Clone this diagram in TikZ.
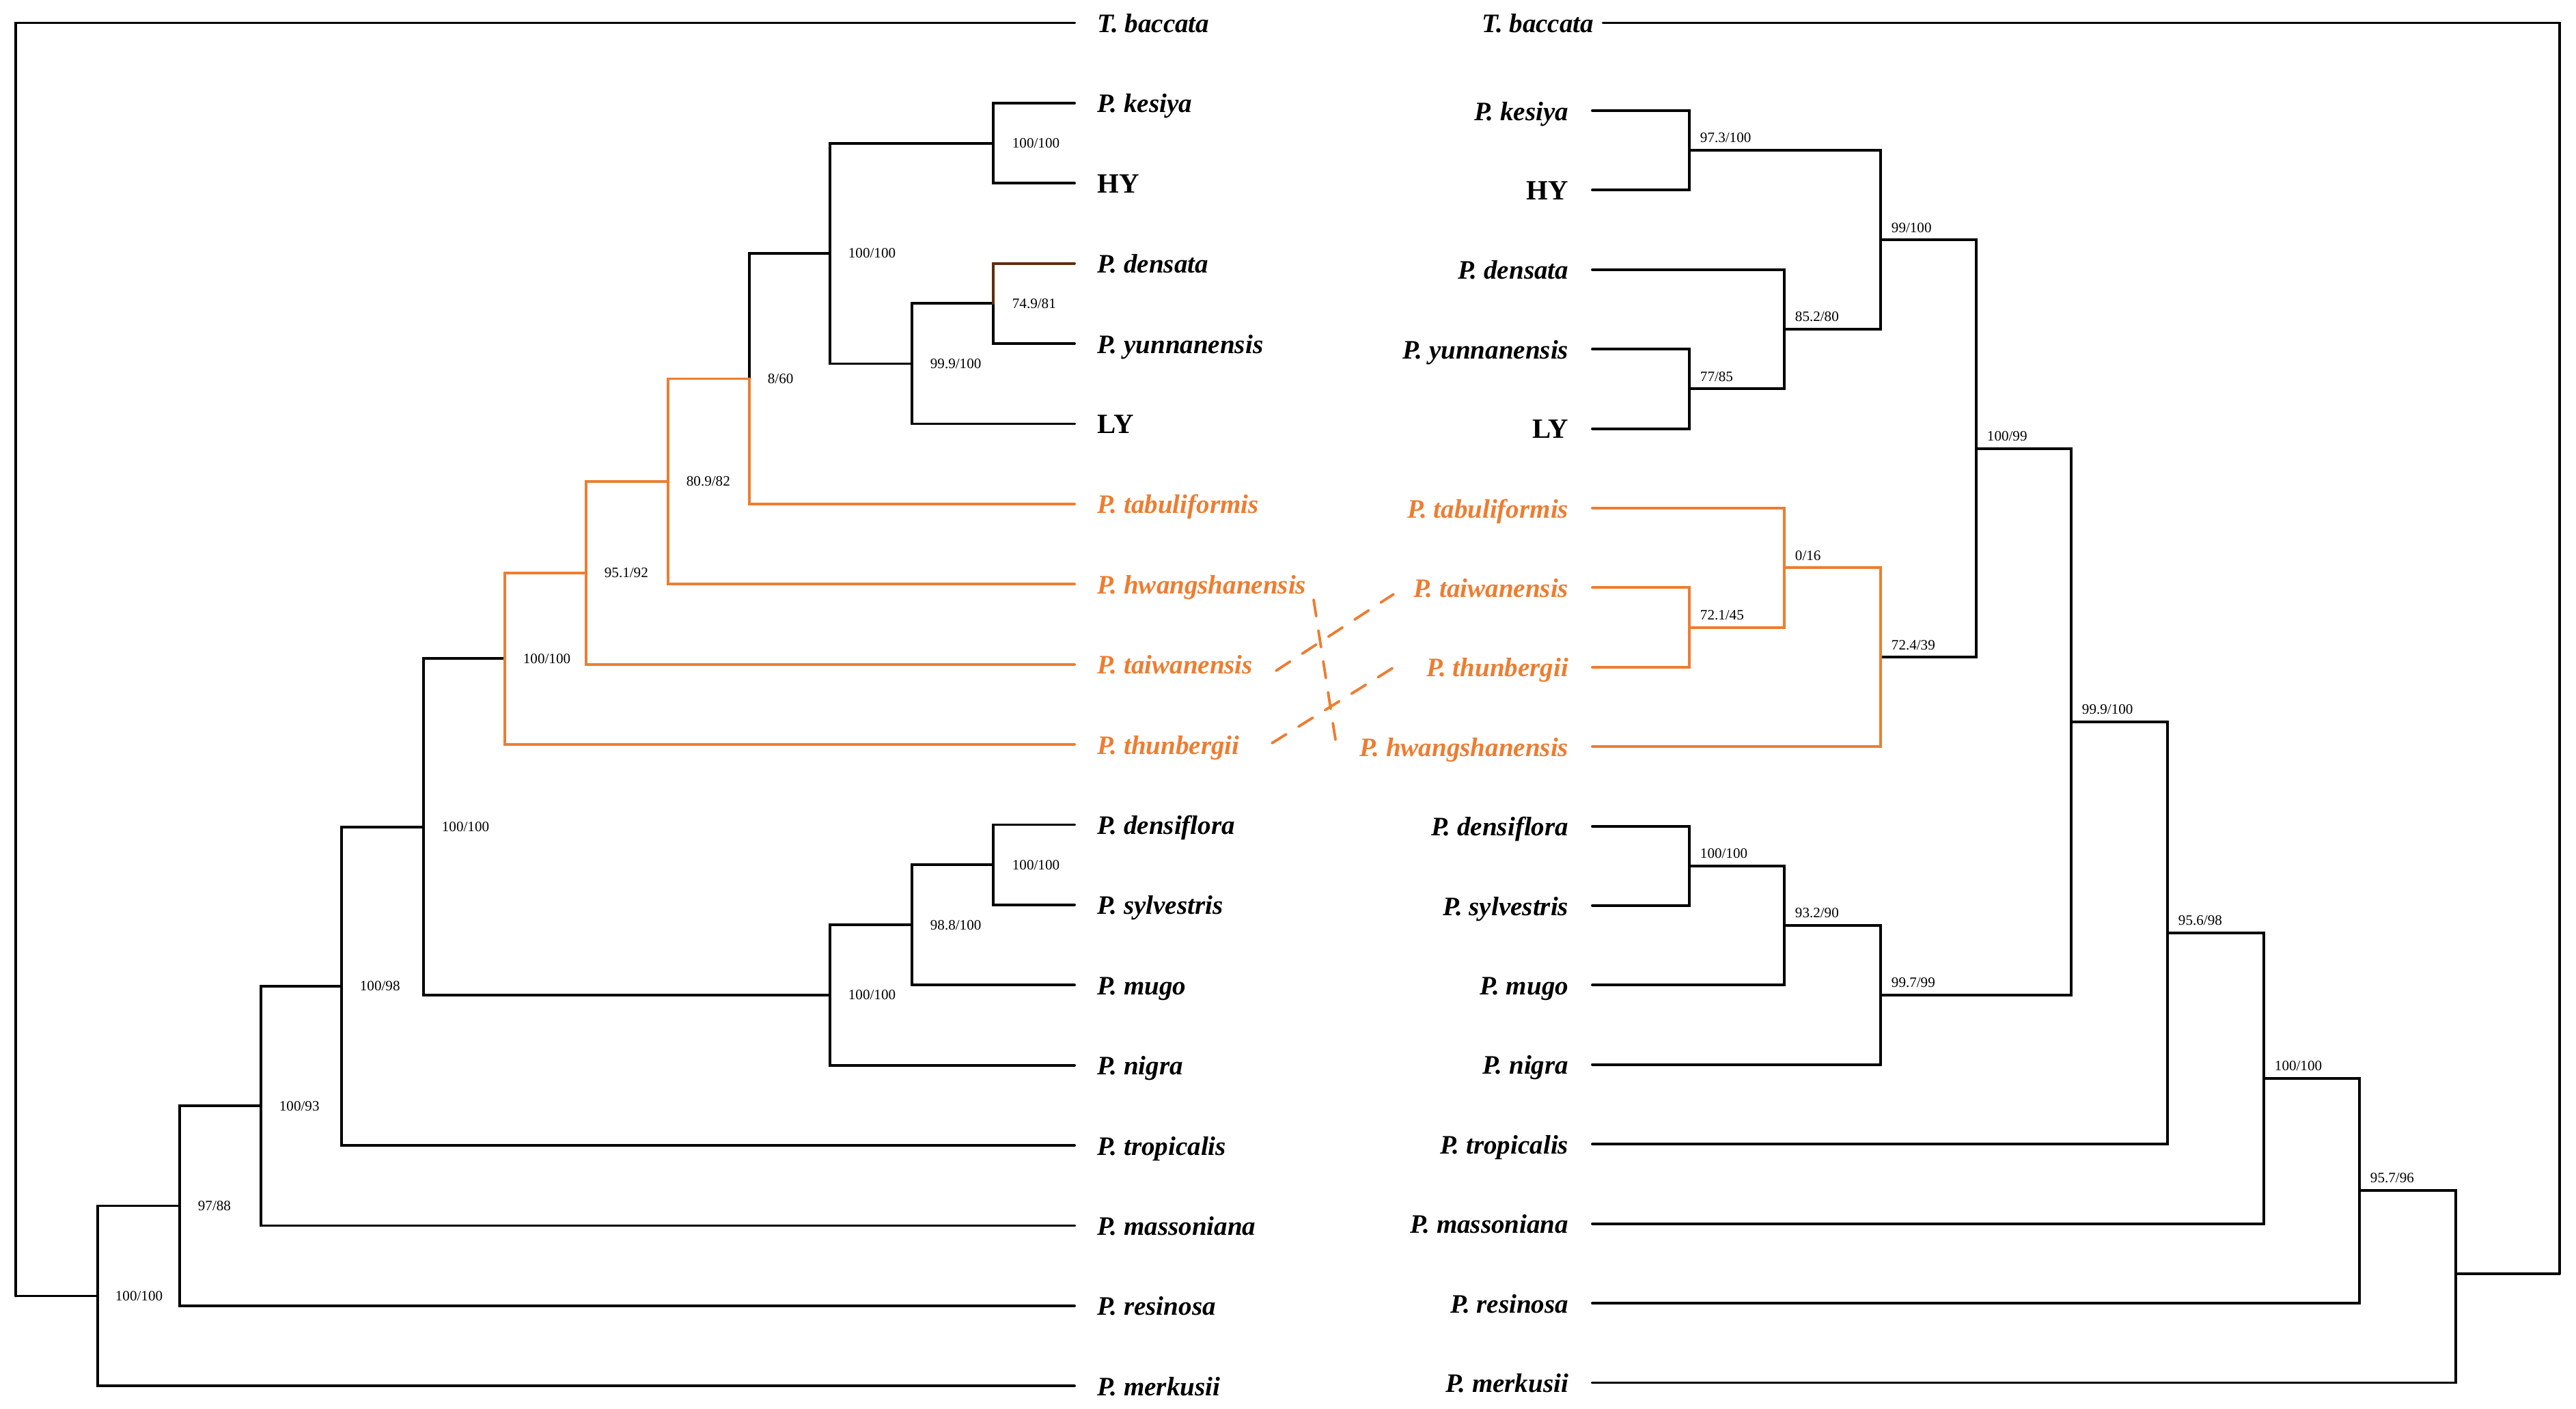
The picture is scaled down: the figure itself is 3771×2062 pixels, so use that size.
\documentclass[tikz,border=0pt]{standalone}
\usepackage{fontspec}
\setmainfont{Liberation Serif}
\usetikzlibrary{positioning}
\definecolor{pineorange}{RGB}{237,125,49}
\definecolor{densbrown}{RGB}{94,46,12}
\tikzset{
	taxon/.style={font=\fontsize{11.1}{13}\selectfont\bfseries\itshape, inner sep=0pt},
	sample/.style={font=\fontsize{11.6}{13}\selectfont\bfseries, inner sep=0pt},
	support/.style={font=\fontsize{6}{7}\selectfont, inner sep=0pt},
	swap/.style={pineorange, dash pattern=on 7pt off 6pt}
}
\begin{document}
\begin{tikzpicture}[x=0.01cm, y=-0.01cm, line width=1.1pt, line cap=round]
		\useasboundingbox (0,0) rectangle (3771,2062);
		% left tree: inner nodes
		\coordinate (lroot) at (23,1897.4);
		\coordinate (lA) at (143,1897.4);
		\coordinate (lB) at (263,1765.5);
		\coordinate (lC) at (382,1619.2);
		\coordinate (lD) at (500,1443.9);
		\coordinate (lE) at (620,1210.7);
		\coordinate (lF) at (739,964.4);
		\coordinate (lH) at (858,838.8);
		\coordinate (lI) at (978,704.9);
		\coordinate (lJ) at (1097,554.5);
		\coordinate (lK) at (1215,371);
		\coordinate (lL) at (1454,209.6);
		\coordinate (lM) at (1335,532.5);
		\coordinate (lN) at (1454,444.4);
		\coordinate (lG) at (1215,1457);
		\coordinate (lO) at (1335,1354.3);
		\coordinate (lP) at (1454,1266.2);
		% left tree: tips
		\coordinate (ltb) at (1573,33.5);
		\coordinate (lkes) at (1573,150.9);
		\coordinate (lhy) at (1573,268.3);
		\coordinate (lden) at (1573,385.7);
		\coordinate (lyun) at (1573,503.1);
		\coordinate (lly) at (1573,620.5);
		\coordinate (ltab) at (1573,737.9);
		\coordinate (lhwa) at (1573,855.3);
		\coordinate (ltai) at (1573,972.7);
		\coordinate (lthu) at (1573,1090.1);
		\coordinate (ldfl) at (1573,1207.5);
		\coordinate (lsyl) at (1573,1324.9);
		\coordinate (lmug) at (1573,1442.3);
		\coordinate (lnig) at (1573,1559.7);
		\coordinate (ltro) at (1573,1677.1);
		\coordinate (lmas) at (1573,1794.5);
		\coordinate (lres) at (1573,1911.9);
		\coordinate (lmer) at (1573,2029.3);
		\node[taxon, anchor=base west] (ntb) at (1605,47.5) {T. baccata};
		\node[taxon, anchor=base west] (nkes) at (1605,164.9) {P. kesiya};
		\node[sample, anchor=base west] (nhy) at (1605,282.3) {HY};
		\node[taxon, anchor=base west] (nden) at (1605,399.7) {P. densata};
		\node[taxon, anchor=base west] (nyun) at (1605,517.1) {P. yunnanensis};
		\node[sample, anchor=base west] (nly) at (1605,634.5) {LY};
		\node[taxon, pineorange, anchor=base west] (ntab) at (1605,751.9) {P. tabuliformis};
		\node[taxon, pineorange, anchor=base west] (nhwa) at (1605,869.3) {P. hwangshanensis};
		\node[taxon, pineorange, anchor=base west] (ntai) at (1605,986.7) {P. taiwanensis};
		\node[taxon, pineorange, anchor=base west] (nthu) at (1605,1104.1) {P. thunbergii};
		\node[taxon, anchor=base west] (ndfl) at (1605,1221.5) {P. densiflora};
		\node[taxon, anchor=base west] (nsyl) at (1605,1338.9) {P. sylvestris};
		\node[taxon, anchor=base west] (nmug) at (1605,1456.3) {P. mugo};
		\node[taxon, anchor=base west] (nnig) at (1605,1573.7) {P. nigra};
		\node[taxon, anchor=base west] (ntro) at (1605,1691.1) {P. tropicalis};
		\node[taxon, anchor=base west] (nmas) at (1605,1808.5) {P. massoniana};
		\node[taxon, anchor=base west] (nres) at (1605,1925.9) {P. resinosa};
		\node[taxon, anchor=base west] (nmer) at (1605,2043.3) {P. merkusii};
		\draw (lroot) |- (ltb) (lroot) -- (lA) (lA) |- (lB) (lA) |- (lmer) (lB) |- (lC) (lB) |- (lres) (lC) |- (lD) (lC) |- (lmas) (lD) |- (lE) (lD) |- (ltro) (lE) |- (lF) (lE) |- (lG) (lG) |- (lO) (lG) |- (lnig) (lO) |- (lP) (lO) |- (lmug) (lP) |- (ldfl) (lP) |- (lsyl) (lJ) |- (lK) (lK) |- (lL) (lK) |- (lM) (lL) |- (lkes) (lL) |- (lhy) (lM) |- (lN) (lM) |- (lly) (lN) |- (lyun);
		\draw[pineorange] (lF) |- (lH) (lF) |- (lthu) (lH) |- (lI) (lH) |- (ltai) (lI) |- (lJ) (lI) |- (lhwa) (lJ) |- (ltab);
		\draw[densbrown] (lN) |- (lden);
		\node[support, anchor=west] (slA) at (167,1897.4) {100/100};
		\node[support, anchor=west] (slB) at (288,1765.5) {97/88};
		\node[support, anchor=west] (slC) at (407,1619.2) {100/93};
		\node[support, anchor=west] (slD) at (525,1443.9) {100/98};
		\node[support, anchor=west] (slE) at (645,1210.7) {100/100};
		\node[support, anchor=west] (slF) at (764,964.4) {100/100};
		\node[support, anchor=west] (slH) at (883,838.8) {95.1/92};
		\node[support, anchor=west] (slI) at (1003,704.9) {80.9/82};
		\node[support, anchor=west] (slJ) at (1122,554.5) {8/60};
		\node[support, anchor=west] (slK) at (1240,371) {100/100};
		\node[support, anchor=west] (slL) at (1480,209.6) {100/100};
		\node[support, anchor=west] (slM) at (1360,532.5) {99.9/100};
		\node[support, anchor=west] (slN) at (1480,444.4) {74.9/81};
		\node[support, anchor=west] (slG) at (1240,1457) {100/100};
		\node[support, anchor=west] (slO) at (1360,1354.3) {98.8/100};
		\node[support, anchor=west] (slP) at (1480,1266.2) {100/100};
		% right tree: inner nodes
		\coordinate (rroot) at (3747,1865);
		\coordinate (rp) at (3595,1865);
		\coordinate (ro) at (3454,1743.4);
		\coordinate (rn) at (3314,1578.8);
		\coordinate (rm) at (3173,1366);
		\coordinate (rl) at (3032,1056.8);
		\coordinate (rh) at (2893,656.7);
		\coordinate (rd) at (2753,351.2);
		\coordinate (ra) at (2473,220.2);
		\coordinate (rc) at (2612,482.1);
		\coordinate (rb) at (2473,569.4);
		\coordinate (rg) at (2753,962.3);
		\coordinate (rf) at (2612,831.3);
		\coordinate (re) at (2473,918.6);
		\coordinate (rk) at (2753,1457);
		\coordinate (rj) at (2612,1355.1);
		\coordinate (ri) at (2473,1267.8);
		% right tree: tips
		\coordinate (rtb) at (2347,33.5);
		\coordinate (rkes) at (2331,162);
		\coordinate (rhy) at (2331,278.4);
		\coordinate (rden) at (2331,394.8);
		\coordinate (ryun) at (2331,511.2);
		\coordinate (rly) at (2331,627.6);
		\coordinate (rtab) at (2331,744);
		\coordinate (rtai) at (2331,860.4);
		\coordinate (rthu) at (2331,976.8);
		\coordinate (rhwa) at (2331,1093.2);
		\coordinate (rdfl) at (2331,1209.6);
		\coordinate (rsyl) at (2331,1326);
		\coordinate (rmug) at (2331,1442.4);
		\coordinate (rnig) at (2331,1558.8);
		\coordinate (rtro) at (2331,1675.2);
		\coordinate (rmas) at (2331,1791.6);
		\coordinate (rres) at (2331,1908);
		\coordinate (rmer) at (2331,2024.4);
		\node[taxon, anchor=base east] (mtb) at (2335,47.5) {T. baccata};
		\node[taxon, anchor=base east] (mkes) at (2298,176) {P. kesiya};
		\node[sample, anchor=base east] (mhy) at (2298,292.4) {HY};
		\node[taxon, anchor=base east] (mden) at (2298,408.8) {P. densata};
		\node[taxon, anchor=base east] (myun) at (2298,525.2) {P. yunnanensis};
		\node[sample, anchor=base east] (mly) at (2298,641.6) {LY};
		\node[taxon, pineorange, anchor=base east] (mtab) at (2298,758) {P. tabuliformis};
		\node[taxon, pineorange, anchor=base east] (mtai) at (2298,874.4) {P. taiwanensis};
		\node[taxon, pineorange, anchor=base east] (mthu) at (2298,990.8) {P. thunbergii};
		\node[taxon, pineorange, anchor=base east] (mhwa) at (2298,1107.2) {P. hwangshanensis};
		\node[taxon, anchor=base east] (mdfl) at (2298,1223.6) {P. densiflora};
		\node[taxon, anchor=base east] (msyl) at (2298,1340) {P. sylvestris};
		\node[taxon, anchor=base east] (mmug) at (2298,1456.4) {P. mugo};
		\node[taxon, anchor=base east] (mnig) at (2298,1572.8) {P. nigra};
		\node[taxon, anchor=base east] (mtro) at (2298,1689.2) {P. tropicalis};
		\node[taxon, anchor=base east] (mmas) at (2298,1805.6) {P. massoniana};
		\node[taxon, anchor=base east] (mres) at (2298,1922) {P. resinosa};
		\node[taxon, anchor=base east] (mmer) at (2298,2038.4) {P. merkusii};
		\draw (rroot) |- (rtb) (rroot) -- (rp) (rp) |- (ro) (rp) |- (rmer) (ro) |- (rn) (ro) |- (rres) (rn) |- (rm) (rn) |- (rmas) (rm) |- (rl) (rm) |- (rtro) (rl) |- (rh) (rl) |- (rk) (rk) |- (rj) (rk) |- (rnig) (rj) |- (ri) (rj) |- (rmug) (ri) |- (rdfl) (ri) |- (rsyl) (rh) |- (rd) (rh) |- (rg) (rd) |- (ra) (rd) |- (rc) (ra) |- (rkes) (ra) |- (rhy) (rc) |- (rden) (rc) |- (rb) (rb) |- (ryun) (rb) |- (rly);
		\draw[pineorange] (rg) |- (rf) (rg) |- (rhwa) (rf) |- (rtab) (rf) |- (re) (re) |- (rtai) (re) |- (rthu);
		\node[support, anchor=south west] (sro) at (3468,1734) {95.7/96};
		\node[support, anchor=south west] (srn) at (3328,1569.8) {100/100};
		\node[support, anchor=south west] (srm) at (3187,1357) {95.6/98};
		\node[support, anchor=south west] (srl) at (3046,1047.8) {99.9/100};
		\node[support, anchor=south west] (srh) at (2907,647.7) {100/99};
		\node[support, anchor=south west] (srd) at (2767,342.2) {99/100};
		\node[support, anchor=south west] (sra) at (2487,211.2) {97.3/100};
		\node[support, anchor=south west] (src) at (2626,473.1) {85.2/80};
		\node[support, anchor=south west] (srb) at (2487,560.4) {77/85};
		\node[support, anchor=south west] (srg) at (2767,953.3) {72.4/39};
		\node[support, anchor=south west] (srf) at (2626,822.3) {0/16};
		\node[support, anchor=south west] (sre) at (2487,909.6) {72.1/45};
		\node[support, anchor=south west] (srk) at (2767,1448) {99.7/99};
		\node[support, anchor=south west] (srj) at (2626,1346.1) {93.2/90};
		\node[support, anchor=south west] (sri) at (2487,1258.8) {100/100};
		% links between the two trees
		\coordinate (xtai) at (1868,982);
		\coordinate (ytai) at (2040,870);
		\coordinate (xthu) at (1862,1088);
		\coordinate (ythu) at (2047,973);
		\coordinate (xhwa) at (1923,878);
		\coordinate (yhwa) at (1955,1083);
		\draw[swap] (xtai) -- (ytai) (xthu) -- (ythu) (xhwa) -- (yhwa);
\end{tikzpicture}
\end{document}
